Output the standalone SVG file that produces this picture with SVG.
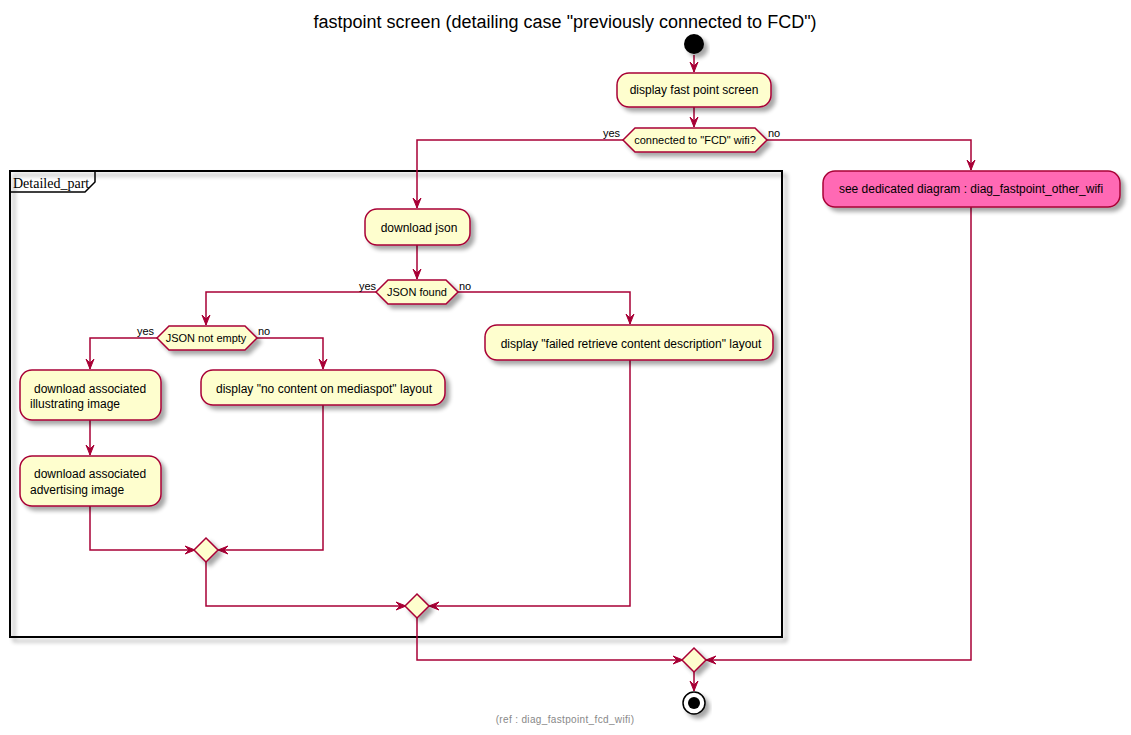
<svg xmlns="http://www.w3.org/2000/svg" width="1131" height="735" viewBox="0 0 1131 735">
<defs>
<filter id="sh" x="-20%" y="-20%" width="150%" height="160%">
<feGaussianBlur in="SourceAlpha" stdDeviation="2"/>
<feOffset dx="4" dy="4" result="b"/>
<feComponentTransfer><feFuncA type="linear" slope="0.35"/></feComponentTransfer>
<feMerge><feMergeNode/><feMergeNode in="SourceGraphic"/></feMerge>
</filter>
<marker id="ah" viewBox="0 0 10 10" refX="10" refY="5" markerWidth="10" markerHeight="10" markerUnits="userSpaceOnUse" orient="auto">
<path d="M0,1 L10,5 L0,9 L4,5 Z" fill="#A80036" stroke="#A80036" stroke-width="1"/>
</marker>
</defs>
<style>
.act{fill:#FEFECE;stroke:#A80036;stroke-width:1.5;filter:url(#sh)}
.pink{fill:#FF69B4;stroke:#A80036;stroke-width:1.5;filter:url(#sh)}
.dec{fill:#FEFECE;stroke:#A80036;stroke-width:1.5;filter:url(#sh)}
.t{font-family:"Liberation Sans",Arial,sans-serif;font-size:12px;fill:#000}
.ts{font-family:"Liberation Sans",Arial,sans-serif;font-size:11px;fill:#000}
.c{text-anchor:middle}
.ln{fill:none;stroke:#A80036;stroke-width:1.5}
.arr{marker-end:url(#ah)}
</style>
<rect width="1131" height="735" fill="#fff"/>
<text x="565" y="28" class="c" font-family="Liberation Sans,Arial,sans-serif" font-size="18">fastpoint screen (detailing case "previously connected to FCD")</text>

<g id="partition">
<rect x="10" y="171" width="772" height="466" fill="none" stroke="#000" stroke-width="2" filter="url(#sh)"/>
<path d="M10,192 L85,192 L95,182 L95,171" fill="none" stroke="#000" stroke-width="1.5"/>
<text x="13" y="188" font-family="Liberation Serif,Times New Roman,serif" font-size="14">Detailed_part</text>
</g>

<g id="connectors">
<path class="ln arr" d="M694,55 L694,72"/>
<path class="ln arr" d="M694,107 L694,127"/>
<path class="ln arr" d="M623,140 L417,140 L417,208"/>
<path class="ln arr" d="M767,140 L971,140 L971,170"/>
<path class="ln arr" d="M417,245 L417,279"/>
<path class="ln arr" d="M376,292 L206,292 L206,325"/>
<path class="ln arr" d="M458,292 L630,292 L630,324"/>
<path class="ln arr" d="M157,338 L90,338 L90,369"/>
<path class="ln arr" d="M257,338 L323,338 L323,369"/>
<path class="ln arr" d="M90,420 L90,455"/>
<path class="ln arr" d="M90,506 L90,550 L195,550"/>
<path class="ln arr" d="M323,405 L323,550 L218,550"/>
<path class="ln arr" d="M206,562 L206,606 L406,606"/>
<path class="ln arr" d="M630,360 L630,606 L429,606"/>
<path class="ln arr" d="M417,618 L417,660 L683,660"/>
<path class="ln arr" d="M971,207 L971,660 L706,660"/>
<path class="ln arr" d="M694,672 L694,691"/>
</g>
<g id="labels">
<text x="603" y="137" class="ts">yes</text>
<text x="768" y="137" class="ts">no</text>
<text x="359" y="290" class="ts">yes</text>
<text x="459" y="290" class="ts">no</text>
<text x="137" y="335" class="ts">yes</text>
<text x="258" y="335" class="ts">no</text>
</g>

<g id="start"><circle cx="694" cy="44" r="10" fill="#000" filter="url(#sh)"/></g>

<g id="display_fast_point">
<rect class="act" x="617" y="73" width="154" height="34" rx="12"/>
<text class="t c" x="694" y="94">display fast point screen</text>
</g>

<g id="dec_fcd">
<polygon class="dec" points="623,140 635,128 755,128 767,140 755,152 635,152"/>
<text class="ts c" x="695" y="144">connected to "FCD" wifi?</text>
</g>

<g id="see_dedicated">
<rect class="pink" x="823" y="171" width="297" height="36" rx="12"/>
<text class="t c" x="971" y="193">see dedicated diagram : diag_fastpoint_other_wifi</text>
</g>

<g id="download_json">
<rect class="act" x="365" y="209" width="105" height="36" rx="12"/>
<text class="t c" x="419" y="232">download json</text>
</g>

<g id="dec_json_found">
<polygon class="dec" points="376,292 388,280 446,280 458,292 446,304 388,304"/>
<text class="ts c" x="417" y="296">JSON found</text>
</g>

<g id="failed_retrieve">
<rect class="act" x="485" y="325" width="288" height="35" rx="12"/>
<text class="t c" x="631" y="348">display "failed retrieve content description" layout</text>
</g>

<g id="dec_json_not_empty">
<polygon class="dec" points="157,338 169,326 245,326 257,338 245,350 169,350"/>
<text class="ts c" x="206" y="342">JSON not empty</text>
</g>

<g id="download_illustrating">
<rect class="act" x="20" y="370" width="141" height="50" rx="12"/>
<text class="t" x="34" y="393">download associated</text>
<text class="t" x="30" y="408">illustrating image</text>
</g>

<g id="download_advertising">
<rect class="act" x="20" y="456" width="141" height="50" rx="12"/>
<text class="t" x="34" y="478">download associated</text>
<text class="t" x="30" y="494">advertising image</text>
</g>

<g id="no_content">
<rect class="act" x="201" y="370" width="244" height="35" rx="12"/>
<text class="t c" x="324" y="393">display "no content on mediaspot" layout</text>
</g>

<g id="merge1"><polygon class="dec" points="206,538 218,550 206,562 194,550"/></g>
<g id="merge2"><polygon class="dec" points="417,594 429,606 417,618 405,606"/></g>
<g id="merge3"><polygon class="dec" points="694,648 706,660 694,672 682,660"/></g>

<g id="end">
<circle cx="694" cy="703" r="11" fill="#fff" stroke="#000" stroke-width="1.5" filter="url(#sh)"/>
<circle cx="694" cy="703" r="6" fill="#000"/>
</g>

<text x="565" y="723" class="c" font-family="Liberation Sans,Arial,sans-serif" font-size="10" letter-spacing="0.35" fill="#888">(ref : diag_fastpoint_fcd_wifi)</text>
</svg>
